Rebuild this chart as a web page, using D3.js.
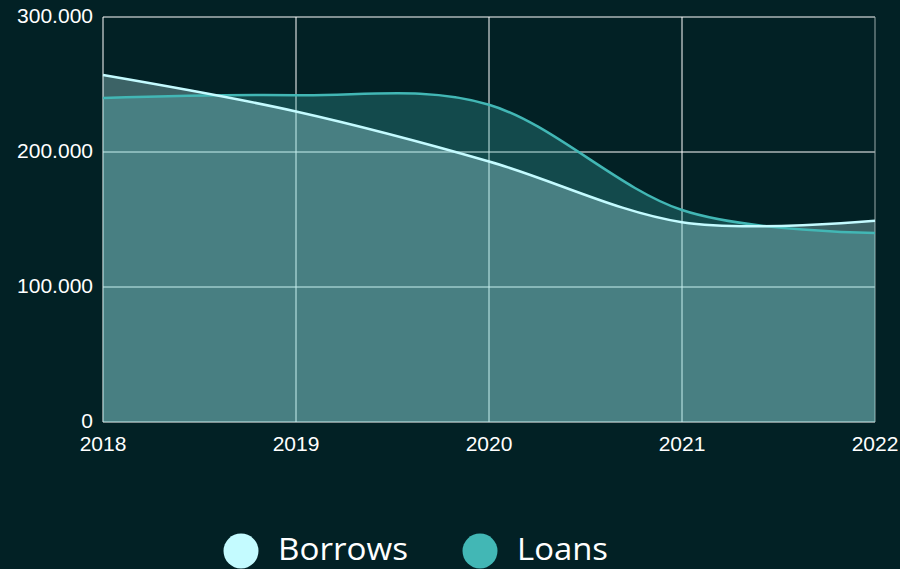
<!DOCTYPE html>
<html lang="en">
<head>
  <meta charset="UTF-8">
  <title>Borrows and Loans</title>
  <style>
    html, body { margin: 0; padding: 0; background: #022125; }
    svg { display: block; }
    .tick-label { fill: #ffffff; font: 21px "Liberation Sans", Arial, sans-serif; }
    .legend-label { fill: #ffffff; font: 31px "Open Sans", sans-serif; }
  </style>
</head>
<body>
  <div id="app"></div>

  <script src="https://cdn.jsdelivr.net/npm/d3@7"></script>
  <script>
    const years = [2018, 2019, 2020, 2021, 2022]
    const borrows = [257000, 230000, 193000, 148000, 149000]
    const loans = [240000, 242000, 235000, 157000, 140000]
    const yTicks = [0, 100000, 200000, 300000]

    const width = 900
    const height = 569
    const margin = { top: 17, right: 25, bottom: 147, left: 103 }

    const borrowColor = '#c4fbff'
    const loanColor = '#42b7b5'

    const svg = d3.select('#app').append('svg')
      .attr('width', width)
      .attr('height', height)

    const x = d3.scaleLinear()
      .domain([years[0], years[years.length - 1]])
      .range([margin.left, width - margin.right])

    const y = d3.scaleLinear()
      .domain([0, 300000])
      .range([height - margin.bottom, margin.top])

    const fmt = d3.formatLocale({ decimal: ',', thousands: '.', grouping: [3], currency: ['', ''] }).format(',d')

    // grid
    const grid = svg.append('g')
    grid.selectAll('line.h').data(yTicks).enter()
      .append('line')
      .attr('x1', x.range()[0]).attr('x2', x.range()[1])
      .attr('y1', d => y(d)).attr('y2', d => y(d))
      .attr('stroke', '#ffffff').attr('stroke-width', 1)
    grid.selectAll('line.v').data(years).enter()
      .append('line')
      .attr('x1', d => x(d)).attr('x2', d => x(d))
      .attr('y1', y.range()[0]).attr('y2', y.range()[1])
      .attr('stroke', d => d === years[years.length - 1] ? '#9aa' : '#ffffff')
      .attr('stroke-width', 1)

    const series = [
      { name: 'Loans', values: loans, color: loanColor, alpha: 0.28 },
      { name: 'Borrows', values: borrows, color: borrowColor, alpha: 0.3 }
    ]

    const area = d3.area()
      .x((d, i) => x(years[i]))
      .y0(y(0))
      .y1(d => y(d))
      .curve(d3.curveCardinal.tension(0))

    const line = d3.line()
      .x((d, i) => x(years[i]))
      .y(d => y(d))
      .curve(d3.curveCardinal.tension(0))

    svg.selectAll('path.area').data(series).enter()
      .append('path')
      .attr('class', 'area')
      .attr('d', d => area(d.values))
      .attr('fill', d => d.color)
      .attr('fill-opacity', d => d.alpha)

    svg.selectAll('path.line').data(series).enter()
      .append('path')
      .attr('class', 'line')
      .attr('d', d => line(d.values))
      .attr('fill', 'none')
      .attr('stroke', d => d.color)
      .attr('stroke-width', 2.5)

    // y labels
    svg.selectAll('text.ylab').data(yTicks).enter()
      .append('text')
      .attr('class', 'tick-label')
      .attr('x', margin.left - 10)
      .attr('y', d => y(d))
      .attr('dy', '0.3em')
      .attr('text-anchor', 'end')
      .text(d => fmt(d))

    // x labels
    svg.selectAll('text.xlab').data(years).enter()
      .append('text')
      .attr('class', 'tick-label')
      .attr('x', d => x(d))
      .attr('y', y(0) + 29)
      .attr('text-anchor', 'middle')
      .text(d => d)

    // legend
    const legendItems = [
      { name: 'Borrows', color: borrowColor, cx: 241, w: 130 },
      { name: 'Loans', color: loanColor, cx: 480, w: 91 }
    ]
    const legend = svg.selectAll('g.legend').data(legendItems).enter()
      .append('g')
      .attr('transform', d => `translate(${d.cx}, 551)`)
    legend.append('circle')
      .attr('r', 17.5)
      .attr('fill', d => d.color)
    legend.append('text')
      .attr('class', 'legend-label')
      .attr('x', 37)
      .attr('y', 9)
      .attr('textLength', d => d.w)
      .attr('lengthAdjust', 'spacingAndGlyphs')
      .text(d => d.name)
  </script>
</body>
</html>
